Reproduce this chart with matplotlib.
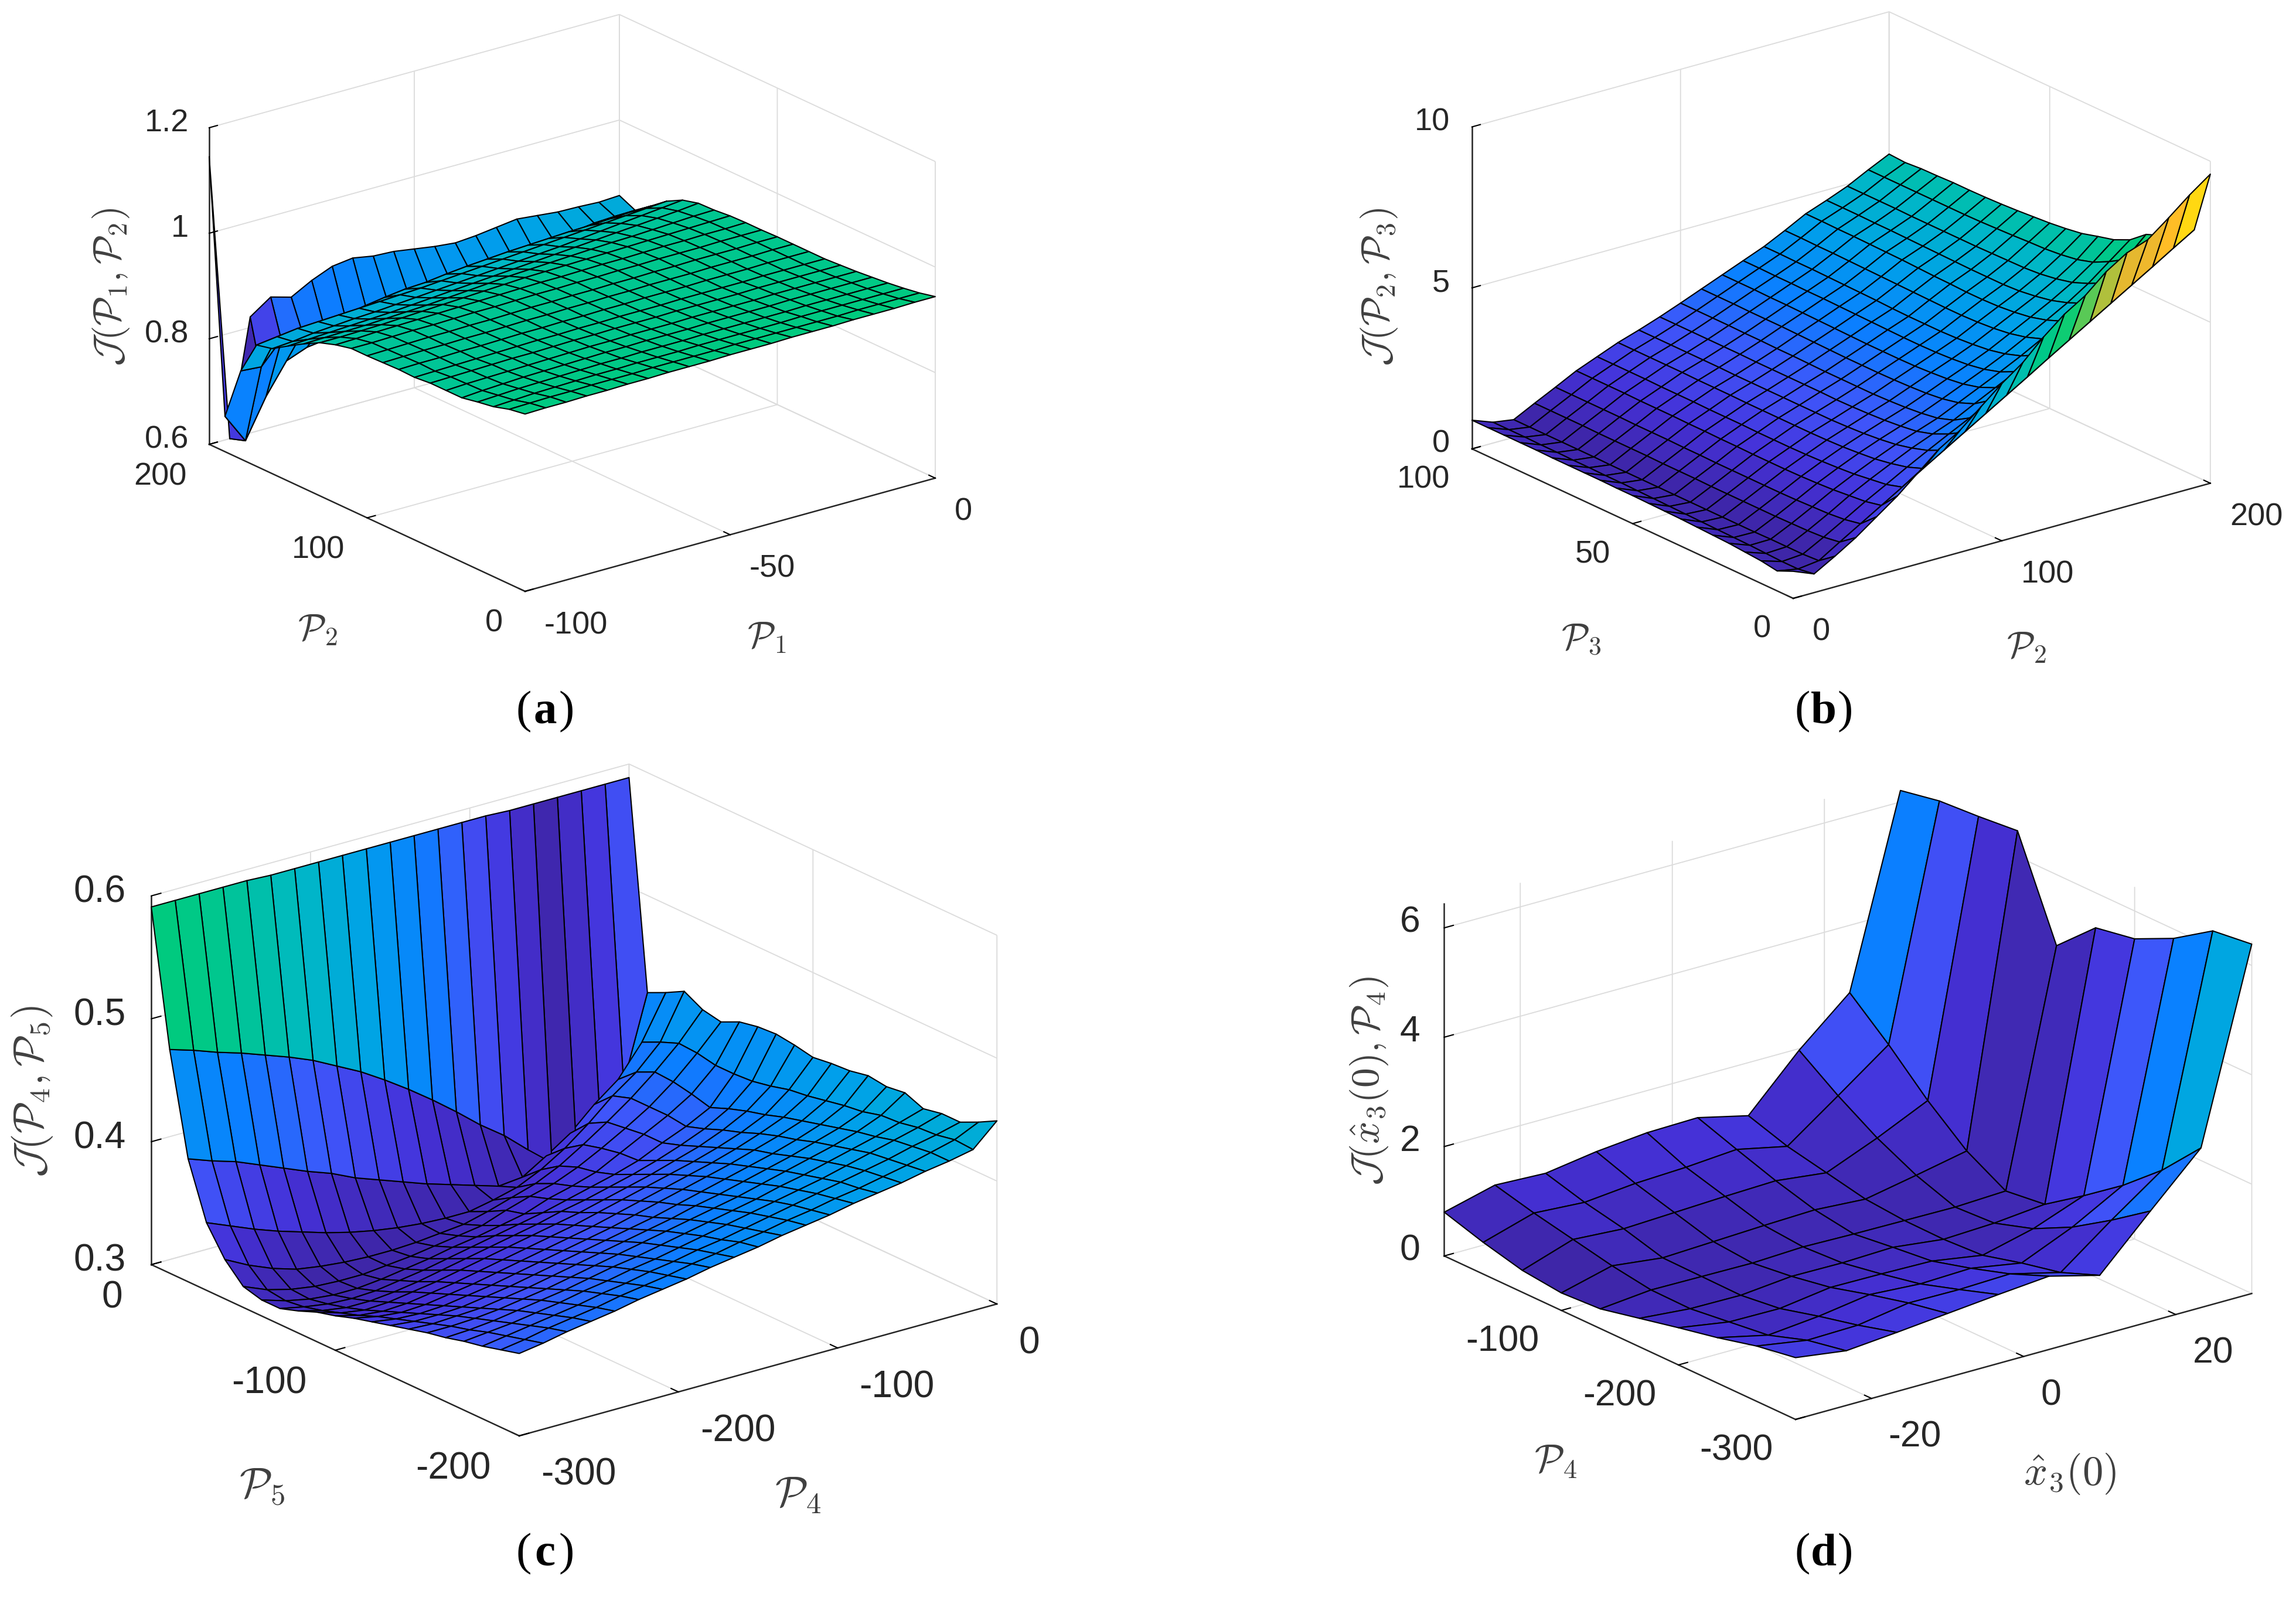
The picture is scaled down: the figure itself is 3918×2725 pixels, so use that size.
import numpy as np
import matplotlib
import matplotlib.pyplot as plt
from matplotlib.colors import LinearSegmentedColormap, Normalize
from mpl_toolkits.mplot3d import proj3d

matplotlib.use("Agg")
plt.rcParams["font.family"] = ["Liberation Sans", "DejaVu Sans"]
plt.rcParams["mathtext.fontset"] = "cm"
plt.rcParams["axes.unicode_minus"] = False

W, H = 3918, 2725
DPI = 300

# (a) rows are P2 = 0..200, columns are P1 = -100..0
p1_grid = [-100, -95, -90, -85, -80, -75, -70, -65, -60, -55, -50, -45, -40, -35, -30, -25, -20, -15, -10, -5, 0]
p2_grid = [0, 10, 20, 30, 40, 50, 60, 70, 80, 90, 100, 110, 120, 130, 140, 150, 160, 170, 180, 190, 200]
z_a = [
    [.936, .937, .937, .938, .938, .939, .939, .940, .940, .940, .941, .941, .941, .942, .942, .942, .943, .943, .943, .944, .944],
    [.931, .932, .933, .933, .934, .934, .934, .935, .935, .935, .935, .936, .936, .936, .936, .936, .936, .937, .937, .937, .937],
    [.922, .924, .926, .927, .928, .929, .929, .930, .930, .930, .931, .931, .931, .931, .931, .932, .932, .932, .932, .932, .932],
    [.917, .919, .921, .922, .923, .924, .925, .925, .926, .926, .926, .927, .927, .927, .927, .927, .928, .928, .928, .928, .928],
    [.911, .914, .916, .918, .919, .920, .921, .922, .922, .923, .923, .923, .924, .924, .924, .924, .925, .925, .925, .925, .925],
    [.911, .913, .914, .915, .916, .917, .918, .919, .919, .920, .920, .920, .921, .921, .921, .921, .922, .922, .922, .922, .922],
    [.911, .912, .913, .914, .915, .915, .916, .917, .917, .918, .918, .918, .919, .919, .919, .919, .920, .920, .920, .920, .920],
    [.908, .909, .910, .911, .912, .913, .914, .914, .915, .915, .916, .916, .916, .917, .917, .917, .917, .918, .918, .918, .918],
    [.909, .910, .910, .911, .911, .912, .913, .913, .914, .914, .915, .915, .916, .916, .916, .917, .917, .917, .918, .918, .918],
    [.908, .909, .910, .910, .911, .911, .912, .913, .913, .914, .914, .915, .915, .916, .916, .916, .917, .917, .917, .918, .918],
    [.907, .908, .909, .910, .910, .911, .911, .912, .913, .913, .914, .914, .915, .915, .916, .916, .917, .917, .917, .918, .918],
    [.907, .907, .908, .909, .909, .910, .911, .911, .912, .913, .913, .914, .914, .915, .915, .916, .916, .916, .917, .917, .917],
    [.900, .901, .903, .904, .905, .906, .907, .908, .909, .910, .911, .911, .912, .913, .913, .914, .915, .915, .916, .916, .917],
    [.890, .890, .891, .892, .894, .896, .898, .900, .902, .904, .906, .907, .908, .909, .910, .911, .912, .913, .914, .915, .916],
    [.874, .875, .876, .877, .879, .881, .883, .886, .889, .892, .895, .897, .899, .901, .903, .905, .906, .908, .910, .912, .913],
    [.856, .858, .860, .862, .864, .866, .869, .872, .875, .878, .881, .884, .887, .890, .893, .896, .899, .902, .905, .908, .912],
    [.837, .840, .845, .848, .851, .853, .856, .859, .862, .865, .868, .871, .874, .877, .880, .884, .888, .892, .896, .900, .904],
    [.830, .835, .840, .842, .844, .846, .848, .850, .852, .855, .858, .861, .864, .867, .870, .873, .876, .879, .882, .885, .888],
    [.767, .764, .806, .807, .810, .818, .825, .831, .836, .838, .843, .847, .850, .853, .855, .857, .859, .860, .862, .864, .865],
    [.667, .610, .683, .740, .755, .760, .770, .780, .790, .795, .800, .805, .810, .815, .820, .825, .830, .835, .840, .842, .843],
    [1.145, .600, .820, .847, .836, .857, .873, .878, .871, .869, .863, .857, .853, .856, .861, .866, .862, .858, .857, .855, .857],
]

# (b) rows are P3 = 0..100, columns are P2 = 0..200
p3_grid = [0, 5, 10, 15, 20, 25, 30, 35, 40, 45, 50, 55, 60, 65, 70, 75, 80, 85, 90, 95, 100]
z_b = [
    [.84, .58, .95, 1.35, 1.82, 2.29, 2.84, 3.39, 3.79, 4.34, 4.88, 5.35, 5.97, 6.5, 6.9, 7.46, 7.87, 8.1, 8.6, 9.13, 9.6],
    [.62, .50, .58, .98, 1.37, 1.76, 2.15, 2.55, 2.94, 3.33, 3.72, 4.11, 4.5, 4.9, 5.29, 5.68, 6.07, 6.46, 6.85, 7.25, 7.64],
    [.70, .50, .55, .90, 1.27, 1.65, 2.0, 2.36, 2.7, 3.03, 3.35, 3.72, 4.08, 4.44, 4.8, 5.16, 5.52, 5.9, 6.3, 6.8, 7.3],
    [.74, .52, .55, .87, 1.22, 1.6, 1.93, 2.24, 2.54, 2.8, 3.05, 3.38, 3.7, 4.02, 4.35, 4.72, 5.1, 5.5, 5.95, 6.5, 7.0],
    [.78, .54, .55, .86, 1.2, 1.55, 1.86, 2.15, 2.42, 2.65, 2.88, 3.18, 3.48, 3.78, 4.1, 4.45, 4.82, 5.2, 5.65, 6.2, 6.8],
    [.80, .55, .54, .85, 1.18, 1.52, 1.82, 2.1, 2.35, 2.58, 2.8, 3.07, 3.35, 3.63, 3.93, 4.27, 4.62, 4.98, 5.4, 5.9, 6.4],
    [.82, .56, .54, .85, 1.17, 1.5, 1.79, 2.06, 2.3, 2.53, 2.75, 3.01, 3.28, 3.54, 3.82, 4.15, 4.48, 4.82, 5.2, 5.65, 6.17],
    [.84, .57, .54, .85, 1.17, 1.49, 1.77, 2.04, 2.27, 2.5, 2.72, 2.98, 3.24, 3.49, 3.76, 4.08, 4.4, 4.72, 5.08, 5.5, 6.04],
    [.85, .58, .54, .85, 1.17, 1.49, 1.76, 2.03, 2.25, 2.48, 2.7, 2.96, 3.21, 3.46, 3.72, 4.04, 4.35, 4.65, 5.0, 5.42, 5.9],
    [.86, .59, .54, .85, 1.17, 1.49, 1.76, 2.03, 2.25, 2.47, 2.7, 2.95, 3.2, 3.45, 3.7, 4.02, 4.33, 4.62, 4.96, 5.37, 5.82],
    [.87, .60, .54, .86, 1.17, 1.5, 1.76, 2.03, 2.25, 2.48, 2.7, 2.95, 3.2, 3.45, 3.7, 4.02, 4.33, 4.62, 4.95, 5.35, 5.76],
    [.87, .61, .54, .86, 1.18, 1.5, 1.77, 2.03, 2.25, 2.48, 2.7, 2.95, 3.2, 3.46, 3.7, 4.03, 4.35, 4.62, 4.94, 5.32, 5.72],
    [.88, .62, .54, .86, 1.18, 1.51, 1.77, 2.03, 2.25, 2.48, 2.71, 2.96, 3.21, 3.47, 3.71, 4.04, 4.36, 4.63, 4.93, 5.3, 5.68],
    [.88, .62, .54, .87, 1.19, 1.51, 1.77, 2.04, 2.25, 2.48, 2.72, 2.97, 3.22, 3.48, 3.73, 4.05, 4.38, 4.64, 4.93, 5.28, 5.65],
    [.88, .63, .54, .87, 1.19, 1.52, 1.78, 2.04, 2.25, 2.48, 2.72, 2.98, 3.23, 3.49, 3.74, 4.06, 4.4, 4.65, 4.93, 5.27, 5.63],
    [.88, .63, .55, .87, 1.19, 1.52, 1.78, 2.04, 2.26, 2.49, 2.73, 2.99, 3.24, 3.5, 3.75, 4.07, 4.41, 4.66, 4.93, 5.27, 5.62],
    [.89, .64, .55, .87, 1.2, 1.52, 1.78, 2.05, 2.26, 2.49, 2.73, 2.99, 3.25, 3.5, 3.76, 4.08, 4.42, 4.67, 4.93, 5.27, 5.62],
    [.89, .64, .55, .88, 1.2, 1.53, 1.79, 2.05, 2.26, 2.49, 2.74, 2.99, 3.25, 3.51, 3.77, 4.09, 4.43, 4.67, 4.94, 5.27, 5.6],
    [.89, .65, .55, .88, 1.2, 1.53, 1.79, 2.05, 2.26, 2.49, 2.74, 3.0, 3.26, 3.51, 3.77, 4.09, 4.43, 4.68, 4.94, 5.27, 5.59],
    [.89, .65, .55, .88, 1.2, 1.53, 1.79, 2.05, 2.26, 2.49, 2.74, 3.0, 3.26, 3.52, 3.78, 4.1, 4.44, 4.68, 4.94, 5.27, 5.55],
    [.89, .65, .55, .88, 1.2, 1.53, 1.79, 2.05, 2.26, 2.49, 2.74, 3.0, 3.26, 3.52, 3.78, 4.1, 4.44, 4.68, 4.94, 5.27, 5.58],
]

# (c) rows are P5 = -200..0, columns are P4 = -300..0
p4_grid = [-300, -285, -270, -255, -240, -225, -210, -195, -180, -165, -150, -135, -120, -105, -90, -75, -60, -45, -30, -15, 0]
p5_grid = [-200, -190, -180, -170, -160, -150, -140, -130, -120, -110, -100, -90, -80, -70, -60, -50, -40, -30, -20, -10, 0]
z_c = [
    [.367, .370, .374, .377, .380, .384, .387, .390, .394, .397, .400, .404, .407, .410, .414, .417, .420, .424, .427, .431, .449],
    [.363, .366, .370, .373, .376, .380, .383, .386, .390, .393, .397, .400, .404, .407, .411, .414, .418, .422, .427, .432, .441],
    [.359, .362, .365, .368, .371, .375, .378, .382, .385, .389, .392, .396, .400, .404, .408, .412, .416, .420, .425, .429, .434],
    [.356, .358, .360, .363, .366, .370, .373, .377, .380, .384, .388, .392, .396, .400, .404, .408, .413, .418, .423, .428, .434],
    [.352, .353, .355, .358, .361, .364, .368, .372, .375, .379, .383, .387, .391, .395, .400, .404, .409, .414, .419, .425, .431],
    [.349, .349, .350, .352, .355, .358, .362, .366, .370, .374, .378, .382, .386, .390, .395, .400, .405, .410, .416, .424, .437],
    [.345, .344, .345, .346, .349, .352, .356, .360, .364, .368, .372, .376, .381, .385, .390, .395, .400, .406, .412, .420, .435],
    [.341, .339, .339, .340, .343, .346, .350, .354, .358, .362, .366, .370, .375, .380, .385, .390, .395, .401, .408, .418, .437],
    [.337, .334, .333, .334, .337, .340, .344, .348, .352, .356, .360, .365, .370, .375, .380, .385, .391, .397, .404, .415, .434],
    [.333, .329, .327, .328, .331, .334, .338, .342, .346, .350, .354, .359, .364, .369, .374, .379, .385, .392, .400, .412, .433],
    [.328, .323, .321, .322, .325, .328, .332, .336, .340, .344, .348, .353, .358, .363, .368, .373, .379, .386, .395, .410, .431],
    [.324, .318, .315, .316, .319, .322, .326, .330, .334, .338, .342, .346, .351, .356, .361, .367, .373, .381, .391, .406, .434],
    [.318, .313, .310, .310, .312, .315, .319, .323, .327, .331, .335, .340, .344, .349, .354, .360, .367, .375, .386, .403, .436],
    [.313, .309, .306, .305, .306, .309, .312, .316, .320, .324, .328, .332, .337, .342, .347, .353, .362, .370, .380, .402, .435],
    [.313, .307, .303, .301, .301, .303, .306, .309, .313, .316, .320, .324, .331, .336, .342, .352, .362, .372, .384, .402, .432],
    [.317, .309, .304, .301, .300, .300, .302, .304, .307, .310, .313, .320, .326, .331, .339, .349, .360, .372, .387, .405, .425],
    [.332, .322, .314, .308, .305, .303, .302, .302, .303, .305, .307, .312, .318, .324, .333, .345, .358, .372, .388, .406, .428],
    [.355, .347, .339, .332, .326, .320, .315, .311, .308, .306, .305, .305, .309, .314, .323, .335, .350, .367, .381, .400, .436],
    [.400, .393, .387, .379, .371, .363, .356, .347, .340, .333, .326, .320, .314, .308, .310, .322, .335, .353, .368, .393, .428],
    [.482, .476, .469, .463, .456, .449, .441, .431, .421, .409, .396, .382, .367, .351, .337, .320, .304, .319, .333, .353, .421],
    [.591, .591, .591, .591, .591, .590, .590, .590, .590, .590, .590, .590, .590, .590, .590, .589, .589, .589, .589, .589, .589],
]

# (d) rows are x3(0) = -30..30, columns are P4 = -300..0, transposed when drawn
x3_grid = [-30, -23.33, -16.67, -10, -3.33, 3.33, 10, 16.67, 23.33, 30]
p4_coarse = [-300, -266.7, -233.3, -200, -166.7, -133.3, -100, -66.7, -33.3, 0]
z_d = [
    [1.13, 1.01, .83, .68, .52, .36, .32, .40, .58, .80],
    [1.00, .86, .62, .53, .44, .45, .56, .71, .86, 1.04],
    [1.08, .88, .71, .52, .43, .44, .45, .65, .80, 1.00],
    [1.17, 1.03, .85, .65, .52, .43, .49, .69, .89, 1.14],
    [1.26, 1.02, .79, .64, .51, .47, .53, .73, .93, 1.23],
    [1.34, 1.05, .82, .62, .54, .45, .56, .76, 1.00, 1.25],
    [1.10, .82, .66, .47, .43, .44, .50, .65, .80, 1.03],
    [2.02, 1.52, 1.06, .70, .47, .43, .68, 1.03, 1.47, 1.97],
    [2.92, 2.18, 1.57, 1.05, .56, .47, .87, 1.46, 2.15, 2.77],
    [6.39, 6.30, 5.83, 5.49, 5.36, 4.70, 6.47, 6.40, 6.35, 6.21],
]

parula = LinearSegmentedColormap.from_list(
    "parula_like",
    [
        (0.00, "#3e26a8"),
        (0.10, "#4531d8"),
        (0.20, "#3f55fa"),
        (0.30, "#0a80ff"),
        (0.40, "#00a0ea"),
        (0.50, "#00b8c4"),
        (0.58, "#00c78e"),
        (0.65, "#00cc78"),
        (0.73, "#80c848"),
        (0.80, "#e0b830"),
        (0.88, "#ffb82a"),
        (1.00, "#fff000"),
    ],
)

fig = plt.figure(figsize=(W / DPI, H / DPI), dpi=DPI, facecolor="white")


def corner_px(ax, x, y, z):
    xp, yp, _ = proj3d.proj_transform(x, y, z, ax.get_proj())
    return ax.transData.transform((xp, yp))


def fit_box(ax, xlim, ylim, zlim, left, front, right):
    # move and scale the square axes so that the floor corners land on the wanted pixels
    side = 2000
    for _ in range(3):
        pl = corner_px(ax, xlim[0], ylim[1], zlim[0])
        pr = corner_px(ax, xlim[1], ylim[0], zlim[0])
        side = side * (right[0] - left[0]) / (pr[0] - pl[0])
        pos = ax.get_position()
        ax.set_position([pos.x0, pos.y0, side / W, side / H])
        pf = corner_px(ax, xlim[0], ylim[0], zlim[0])
        pos = ax.get_position()
        ax.set_position([pos.x0 + (front[0] - pf[0]) / W, pos.y0 + (H - front[1] - pf[1]) / H, side / W, side / H])


def put_text(px, py, s, **kw):
    return fig.text(px / W, 1 - py / H, s, **kw)


def tick_text(ax, anchor, offset, s, fs, ha):
    p = corner_px(ax, *anchor)
    put_text(p[0] + offset[0], H - p[1] + offset[1], s, fontsize=fs, color="#262626", ha=ha, va="center")


def panel(x, y, z, xlim, ylim, zlim, xticks, yticks, zticks, zticklabels, left, front, right, tick_fs,
          x_off, y_off, z_off, aspect=0.655):
    ax = fig.add_axes([0.1, 0.1, 2000 / W, 2000 / H], projection="3d", proj_type="ortho")
    ax.set_facecolor("none")
    ax.view_init(elev=21, azim=-127.6)
    ax.set_box_aspect((1, 1, aspect))

    z = np.array(z)
    X, Y = np.meshgrid(x, y)
    norm = Normalize(z.min(), z.max())
    ax.plot_surface(X, Y, z, facecolors=parula(norm(z)), rstride=1, cstride=1, shade=False,
                    edgecolor="black", linewidth=0.5, antialiased=True)

    ax.set_xlim(*xlim, view_margin=0)
    ax.set_ylim(*ylim, view_margin=0)
    ax.set_zlim(*zlim, view_margin=0)
    ax.set_xticks(xticks)
    ax.set_yticks(yticks)
    ax.set_zticks(zticks)
    ax.set_xticklabels([""] * len(xticks))
    ax.set_yticklabels([""] * len(yticks))
    ax.set_zticklabels([""] * len(zticks))

    for axis in (ax.xaxis, ax.yaxis, ax.zaxis):
        axis.set_pane_color((1, 1, 1, 0))
        axis.pane.set_edgecolor("#d4d4d4")
        axis.pane.set_linewidth(0.5)
        axis.line.set_color("#262626")
        axis.line.set_linewidth(0.6)
        axis._axinfo["grid"].update(color="#dcdcdc", linewidth=0.45)
        axis._axinfo["tick"].update(inward_factor=0.0, outward_factor=0.25, linewidth={True: 0.5, False: 0.5})

    fit_box(ax, xlim, ylim, zlim, left, front, right)

    for t in xticks:
        tick_text(ax, (t, ylim[0], zlim[0]), x_off, str(t), tick_fs, "left")
    for t in yticks:
        tick_text(ax, (xlim[0], t, zlim[0]), y_off, str(t), tick_fs, "right")
    for t, s in zip(zticks, zticklabels):
        tick_text(ax, (xlim[0], ylim[1], t), z_off, s, tick_fs, "right")
    return ax


def axis_label(px, py, s, fs, rotation=0):
    put_text(px, py, s, fontsize=fs, color="#404040", rotation=rotation, ha="center", va="center")


def caption(letter, cx, cy):
    fx, fy = cx / W, 1 - cy / H
    fig.text(fx - 0.006, fy, "(", family="Liberation Serif", fontsize=19, ha="right", va="center")
    fig.text(fx, fy, letter, family="Liberation Serif", fontsize=19, fontweight="bold", ha="center", va="center")
    fig.text(fx + 0.006, fy, ")", family="Liberation Serif", fontsize=19, ha="left", va="center")


panel(p1_grid, p2_grid, z_a, (-100, 0), (0, 200), (0.6, 1.2), [-100, -50, 0], [0, 100, 200],
      [0.6, 0.8, 1, 1.2], ["0.6", "0.8", "1", "1.2"],
      (358, 755), (896, 1009), (1597, 817), 13, (33, 58), (-38, 55), (-35, -8))
panel(p2_grid, p3_grid, z_b, (0, 200), (0, 100), (0, 10), [0, 100, 200], [0, 50, 100],
      [0, 5, 10], ["0", "5", "10"],
      (2512, 767), (3060, 1021), (3772, 827), 13, (33, 58), (-38, 53), (-38, -8))
panel(p4_grid, p5_grid, z_c, (-300, 0), (-200, 0), (0.3, 0.6), [-300, -200, -100, 0], [-200, -100, 0],
      [0.3, 0.4, 0.5, 0.6], ["0.3", "0.4", "0.5", "0.6"],
      (257, 2161), (886, 2450), (1700, 2225), 15.4, (37, 67), (-49, 57), (-43, -6))
panel(x3_grid, p4_coarse, np.array(z_d).T, (-30, 30), (-300, 0), (0, 6.44), [-20, 0, 20], [-300, -200, -100],
      [0, 2, 4, 6], ["0", "2", "4", "6"],
      (2470, 2143), (3064, 2422), (3848, 2209), 15, (29, 66), (-38, 53), (-41, -9))

axis_label(1308, 1088, r"$\mathcal{P}_1$", 15)
axis_label(542, 1075, r"$\mathcal{P}_2$", 15)
axis_label(190, 490, r"$\mathcal{J}(\mathcal{P}_1, \mathcal{P}_2)$", 15.7, 90)
axis_label(3458, 1105, r"$\mathcal{P}_2$", 15)
axis_label(2698, 1090, r"$\mathcal{P}_3$", 15)
axis_label(2353, 490, r"$\mathcal{J}(\mathcal{P}_2, \mathcal{P}_3)$", 15.7, 90)
axis_label(1362, 2552, r"$\mathcal{P}_4$", 17.5)
axis_label(447, 2537, r"$\mathcal{P}_5$", 17.5)
axis_label(55, 1862, r"$\mathcal{J}(\mathcal{P}_4, \mathcal{P}_5)$", 17, 90)
axis_label(3532, 2515, r"$\hat{x}_3(0)$", 17)
axis_label(2655, 2495, r"$\mathcal{P}_4$", 16)
axis_label(2336, 1844, r"$\mathcal{J}(\hat{x}_3(0), \mathcal{P}_4)$", 16.2, 90)

caption("a", 930, 1215)
caption("b", 3112, 1215)
caption("c", 930, 2652)
caption("d", 3112, 2652)

fig.savefig("out.png", dpi=DPI)
